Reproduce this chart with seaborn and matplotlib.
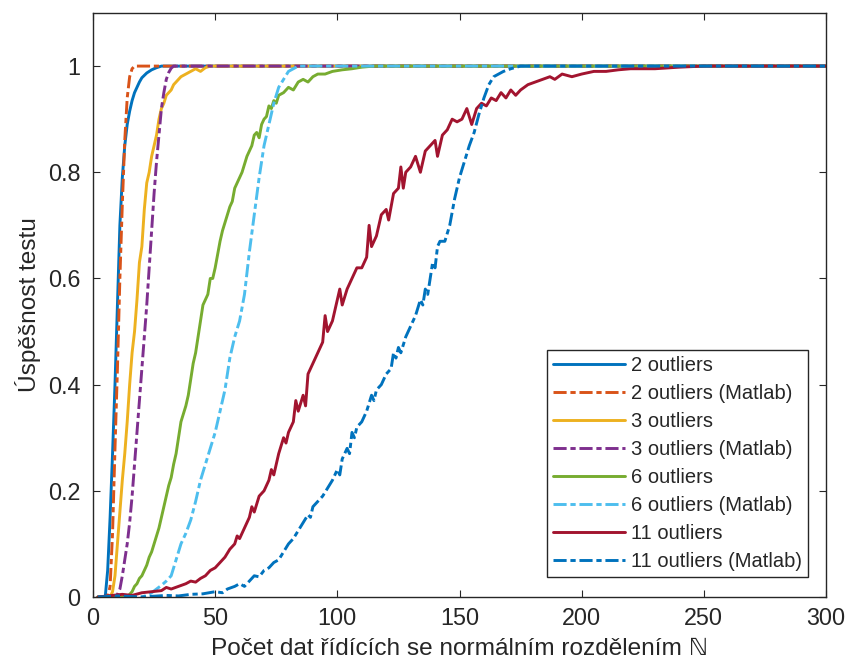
import numpy as np
import pandas as pd
import seaborn as sns
import matplotlib
matplotlib.use("Agg")
import matplotlib.pyplot as plt

# ---------------- data ----------------
labels = ["2 outliers", "2 outliers (Matlab)", "3 outliers", "3 outliers (Matlab)",
          "6 outliers", "6 outliers (Matlab)", "11 outliers", "11 outliers (Matlab)"]
colors = ["#0072BD", "#D95319", "#EDB120", "#7E2F8E", "#77AC30", "#4DBEEE", "#A2142F", "#0072BD"]
styles = ["solid", "dashdot", "solid", "dashdot", "solid", "dashdot", "solid", "dashdot"]

n_2 = [2, 4, 5, 6, 7, 8, 9, 10, 11, 12, 13, 14, 15, 16, 17, 18, 19, 20, 22, 24, 26, 28, 300]
y_2 = [0, 0, 0.0, 0.05, 0.15, 0.27, 0.4, 0.55, 0.7, 0.79, 0.85, 0.89, 0.915, 0.935, 0.95, 0.96, 0.97, 0.978, 0.987, 0.993, 0.997, 1.0, 1.0]

n_2m = [2, 6, 7, 8, 9, 10, 11, 12, 13, 14, 15, 16, 17, 300]
y_2m = [0, 0, 0.02, 0.12, 0.28, 0.43, 0.6, 0.74, 0.86, 0.94, 0.98, 0.995, 1.0, 1.0]

n_3 = [2, 7, 8, 9, 10, 11, 12, 13, 14, 15, 16, 17, 18, 19, 20, 21, 22, 23, 24, 25, 26, 27, 28, 29,
       30, 31, 32, 33, 34, 35, 36, 38, 40, 42, 44, 46, 48, 300]
y_3 = [0, 0, 0.01, 0.04, 0.1, 0.16, 0.22, 0.27, 0.33, 0.4, 0.46, 0.5, 0.56, 0.63, 0.66, 0.73, 0.78, 0.8,
       0.83, 0.85, 0.87, 0.9, 0.92, 0.93, 0.945, 0.95, 0.955, 0.965, 0.97, 0.975, 0.98, 0.985, 0.99,
       0.995, 0.99, 0.997, 1.0, 1.0]

n_3m = [2, 9, 10, 11, 12, 13, 14, 15, 16, 17, 18, 19, 20, 21, 22, 23, 24, 25, 26, 27, 28, 29, 30, 31, 32, 33, 300]
y_3m = [0, 0, 0.005, 0.015, 0.04, 0.07, 0.1, 0.14, 0.19, 0.25, 0.31, 0.37, 0.43, 0.49, 0.55, 0.62,
        0.69, 0.76, 0.82, 0.87, 0.92, 0.95, 0.975, 0.988, 0.996, 1.0, 1.0]

n_6 = [2, 14, 15, 16, 17, 18, 19, 20, 21, 22, 23, 24, 25, 26, 27, 28, 29, 30, 31, 32, 33, 34, 35, 36,
       37, 38, 39, 40, 41, 42, 43, 44, 45, 46, 47, 48, 49, 50, 51, 52, 53, 54, 55, 56, 57, 58, 59, 60,
       61, 62, 63, 64, 65, 66, 67, 68, 69, 70, 71, 72, 73, 74, 75, 76, 78, 80, 82, 84, 86, 88, 90, 92,
       95, 98, 102, 106, 110, 115, 300]
y_6 = [0, 0, 0.005, 0.01, 0.02, 0.025, 0.035, 0.04, 0.05, 0.06, 0.075, 0.085, 0.1, 0.115, 0.13, 0.15,
       0.17, 0.19, 0.21, 0.225, 0.25, 0.27, 0.3, 0.33, 0.345, 0.36, 0.38, 0.41, 0.44, 0.46, 0.49, 0.52,
       0.55, 0.56, 0.57, 0.6, 0.6, 0.62, 0.645, 0.67, 0.69, 0.705, 0.72, 0.735, 0.745, 0.77, 0.78, 0.79,
       0.8, 0.815, 0.83, 0.84, 0.85, 0.87, 0.875, 0.865, 0.89, 0.9, 0.905, 0.925, 0.92, 0.935, 0.93,
       0.945, 0.95, 0.96, 0.955, 0.97, 0.975, 0.97, 0.98, 0.985, 0.985, 0.99, 0.993, 0.995, 0.998, 1.0, 1.0]

n_6m = [2, 20, 22, 24, 26, 28, 30, 32, 34, 36, 38, 40, 42, 44, 46, 48, 50, 52, 54, 56, 58, 60, 62, 64,
        66, 68, 70, 72, 74, 76, 78, 80, 82, 84, 300]
y_6m = [0, 0, 0.003, 0.008, 0.015, 0.022, 0.03, 0.04, 0.07, 0.1, 0.12, 0.145, 0.18, 0.22, 0.25, 0.28,
        0.31, 0.35, 0.39, 0.45, 0.49, 0.52, 0.57, 0.65, 0.72, 0.79, 0.85, 0.89, 0.93, 0.96, 0.975, 0.99,
        0.995, 1.0, 1.0]

n_11 = [2, 8, 12, 16, 20, 24, 28, 30, 32, 35, 38, 40, 42, 44, 46, 48, 50, 52, 54, 56, 58, 59, 60, 62,
        64, 65, 66, 68, 70, 72, 73, 74, 76, 78, 79, 80, 82, 83, 84, 86, 87, 88, 90, 92, 94, 95, 96, 98,
        100, 101, 102, 104, 106, 108, 110, 112, 113, 114, 116, 118, 120, 121, 123, 125, 126, 127, 128,
        130, 132, 134, 136, 138, 140, 141, 143, 145, 147, 149, 151, 152, 153, 155, 157, 159, 161, 163,
        165, 167, 169, 171, 173, 175, 178, 181, 184, 187, 189, 192, 196, 200, 205, 210, 215, 220, 230,
        240, 250, 300]
y_11 = [0, 0.003, 0.005, 0.003, 0.008, 0.01, 0.012, 0.018, 0.015, 0.02, 0.025, 0.03, 0.028, 0.035,
        0.04, 0.05, 0.055, 0.065, 0.075, 0.09, 0.1, 0.115, 0.11, 0.13, 0.15, 0.17, 0.16, 0.19, 0.2,
        0.22, 0.24, 0.23, 0.27, 0.3, 0.29, 0.31, 0.33, 0.37, 0.35, 0.38, 0.36, 0.42, 0.44, 0.46, 0.48,
        0.53, 0.5, 0.52, 0.56, 0.58, 0.55, 0.58, 0.6, 0.62, 0.62, 0.64, 0.7, 0.66, 0.68, 0.72, 0.73,
        0.71, 0.76, 0.77, 0.81, 0.77, 0.8, 0.81, 0.83, 0.8, 0.84, 0.85, 0.86, 0.83, 0.87, 0.88, 0.9,
        0.895, 0.9, 0.91, 0.92, 0.89, 0.92, 0.93, 0.925, 0.94, 0.935, 0.95, 0.94, 0.955, 0.945, 0.955,
        0.965, 0.97, 0.975, 0.98, 0.975, 0.985, 0.98, 0.985, 0.99, 0.99, 0.993, 0.995, 0.995, 0.998,
        1.0, 1.0]

n_11m = [2, 10, 20, 30, 35, 40, 45, 50, 53, 55, 58, 60, 62, 64, 66, 68, 70, 72, 74, 76, 78, 80, 82,
         84, 86, 88, 89, 90, 92, 94, 96, 98, 100, 101, 102, 104, 105, 106, 107, 108, 110, 112, 114,
         115, 116, 118, 120, 122, 123, 124, 125, 126, 128, 130, 132, 134, 135, 136, 137, 138, 139, 140,
         141, 142, 144, 146, 148, 150, 152, 154, 156, 158, 160, 162, 164, 166, 168, 171, 175, 300]
y_11m = [0, 0.002, 0.0, 0.003, 0.002, 0.005, 0.006, 0.01, 0.008, 0.015, 0.02, 0.025, 0.02, 0.03,
         0.04, 0.038, 0.05, 0.055, 0.065, 0.07, 0.085, 0.1, 0.11, 0.125, 0.14, 0.155, 0.15, 0.17,
         0.18, 0.19, 0.205, 0.22, 0.24, 0.23, 0.26, 0.28, 0.27, 0.31, 0.3, 0.32, 0.33, 0.35, 0.38,
         0.37, 0.39, 0.4, 0.42, 0.43, 0.46, 0.45, 0.47, 0.46, 0.49, 0.51, 0.53, 0.56, 0.55, 0.58,
         0.57, 0.6, 0.63, 0.62, 0.66, 0.67, 0.67, 0.7, 0.75, 0.79, 0.82, 0.85, 0.875, 0.91, 0.94,
         0.965, 0.98, 0.985, 0.99, 0.995, 1.0, 1.0]

series_n = [n_2, n_2m, n_3, n_3m, n_6, n_6m, n_11, n_11m]
series_y = [y_2, y_2m, y_3, y_3m, y_6, y_6m, y_11, y_11m]

x_ticks = [0, 50, 100, 150, 200, 250, 300]
y_ticks = [0, 0.2, 0.4, 0.6, 0.8, 1.0]
y_tick_labels = ["0", "0.2", "0.4", "0.6", "0.8", "1"]

# ---------------- plot ----------------
sns.set_theme(style="white")
plt.rcParams["font.family"] = ["Liberation Sans", "DejaVu Sans"]

fig = plt.figure(figsize=(8.46, 6.63), dpi=100)
ax = fig.add_axes([93 / 846, 66 / 663, 733 / 846, 584 / 663])

dashdot = (0, (4.5, 1.3, 1.8, 1.3))
for n, y, lab, col, st in zip(series_n, series_y, labels, colors, styles):
    ls = "-" if st == "solid" else dashdot
    sns.lineplot(x=n, y=y, ax=ax, color=col, linewidth=2.1, linestyle=ls, label=lab,
                 estimator=None, sort=False)

ax.set_xlim(0, 300)
ax.set_ylim(0, 1.1)
ax.set_xticks(x_ticks)
ax.set_yticks(y_ticks)
ax.set_yticklabels(y_tick_labels)

axis_col = "#262626"
for sp in ax.spines.values():
    sp.set_visible(True)
    sp.set_color(axis_col)
    sp.set_linewidth(1.0)
ax.tick_params(axis="both", which="both", direction="in", length=5, width=0.8,
               top=True, right=True, bottom=True, left=True, colors=axis_col,
               labelsize=16.8, labelcolor=axis_col)
ax.tick_params(axis="y", pad=9)
ax.tick_params(axis="x", pad=7)

ax.set_xlabel("Počet dat řídících se normálním rozdělením ℕ", fontsize=17.6, color=axis_col, labelpad=6)
ax.set_ylabel("Úspěšnost testu", fontsize=17.6, color=axis_col, labelpad=5)

leg = ax.legend(loc="lower right", bbox_to_anchor=(0.9755, 0.034), fontsize=14.5,
                frameon=True, fancybox=False, framealpha=1, edgecolor=axis_col,
                handlelength=3.55, handletextpad=0.3, labelspacing=0.45, borderpad=0.3,
                borderaxespad=0)
leg.get_frame().set_linewidth(1.0)

fig.savefig("out.png", dpi=100)
